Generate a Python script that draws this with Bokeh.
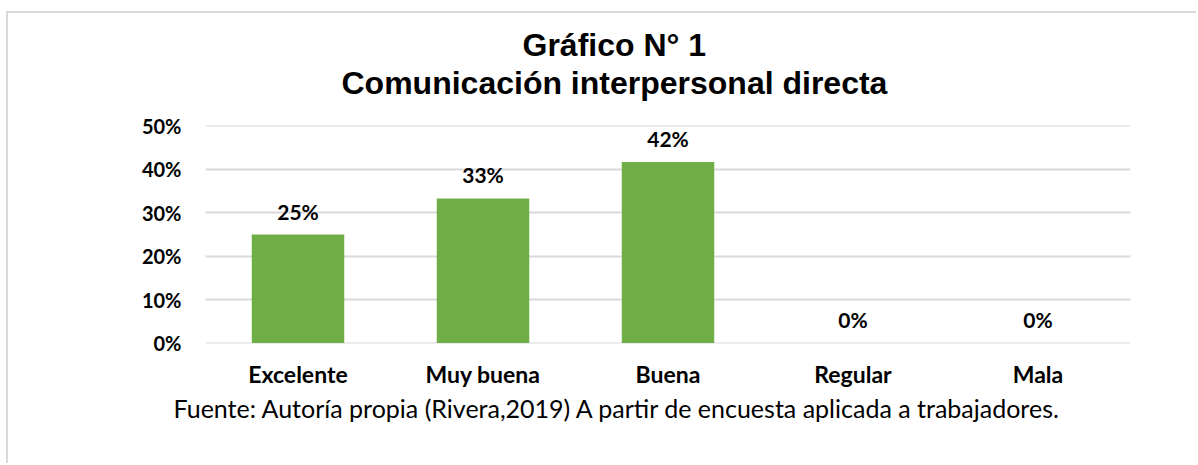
from bokeh.plotting import figure
from bokeh.models import FactorRange, Range1d, Title, NumeralTickFormatter, ColumnDataSource, LabelSet
from bokeh.core.properties import value
from bokeh.embed import file_html
from bokeh.resources import INLINE

categories = ["Excelente", "Muy buena", "Buena", "Regular", "Mala"]
values = [0.25, 0.333, 0.417, 0.0, 0.0]
value_labels = ["25%", "33%", "42%", "0%", "0%"]
y_ticks = [0.0, 0.1, 0.2, 0.3, 0.4, 0.5]
title_line1 = "Gráfico N° 1"
title_line2 = "Comunicación interpersonal directa"
caption = "Fuente: Autoría propia (Rivera,2019) A partir de encuesta aplicada a trabajadores."

src = ColumnDataSource(dict(cat=categories, val=values, lab=value_labels))

p = figure(x_range=FactorRange(*categories), y_range=Range1d(-0.001, 0.501),
           width=1190, height=452, output_backend="svg", toolbar_location=None,
           min_border_left=197, min_border_right=68, min_border_top=112, min_border_bottom=122)
p.styles = {"border-top": "2px solid #d9d9d9", "border-left": "2px solid #d9d9d9",
            "transform": "translate(6px, 11px)"}
p.outline_line_color = None
p.background_fill_color = "white"
p.border_fill_color = "white"

p.vbar(x="cat", top="val", width=0.5, source=src, fill_color="#6fae47", line_color=None)

p.add_layout(LabelSet(x="cat", y="val", text="lab", source=src, text_align="center",
                      text_baseline="alphabetic", y_offset=15,
                      text_font=value("Lato"), text_font_style="bold",
                      text_font_size="21px", text_color="#000000"))

p.xgrid.grid_line_color = None
p.ygrid.grid_line_color = "#d9d9d9"
p.ygrid.grid_line_width = 2

p.yaxis.ticker = y_ticks
p.yaxis.formatter = NumeralTickFormatter(format="0%")
for ax in (p.xaxis, p.yaxis):
    ax.axis_line_color = None
    ax.major_tick_line_color = None
    ax.minor_tick_line_color = None
    ax.major_label_text_font = "Lato"
    ax.major_label_text_font_style = "bold"
    ax.major_label_text_color = "#000000"
p.yaxis.major_label_text_font_size = "20px"
p.xaxis.major_label_text_font_size = "23px"
p.yaxis.major_label_standoff = 18
p.xaxis.major_label_standoff = 10

# spacer between frame and title
p.add_layout(Title(text=" ", standoff=22, text_font_size="1px"), "above")
p.add_layout(Title(text=title_line2, align="left", offset=136, standoff=0,
                   text_font="Liberation Sans", text_font_style="bold",
                   text_font_size="32px", text_color="#000000"), "above")
p.add_layout(Title(text=title_line1, align="left", offset=317, standoff=0,
                   text_font="Liberation Sans", text_font_style="bold",
                   text_font_size="32px", text_color="#000000"), "above")
p.add_layout(Title(text=caption, align="left", offset=-32, standoff=0,
                   text_font="Lato", text_font_style="normal",
                   text_font_size="25px", text_color="#000000"), "below")

open("out.html", "w").write(file_html(p, INLINE))
